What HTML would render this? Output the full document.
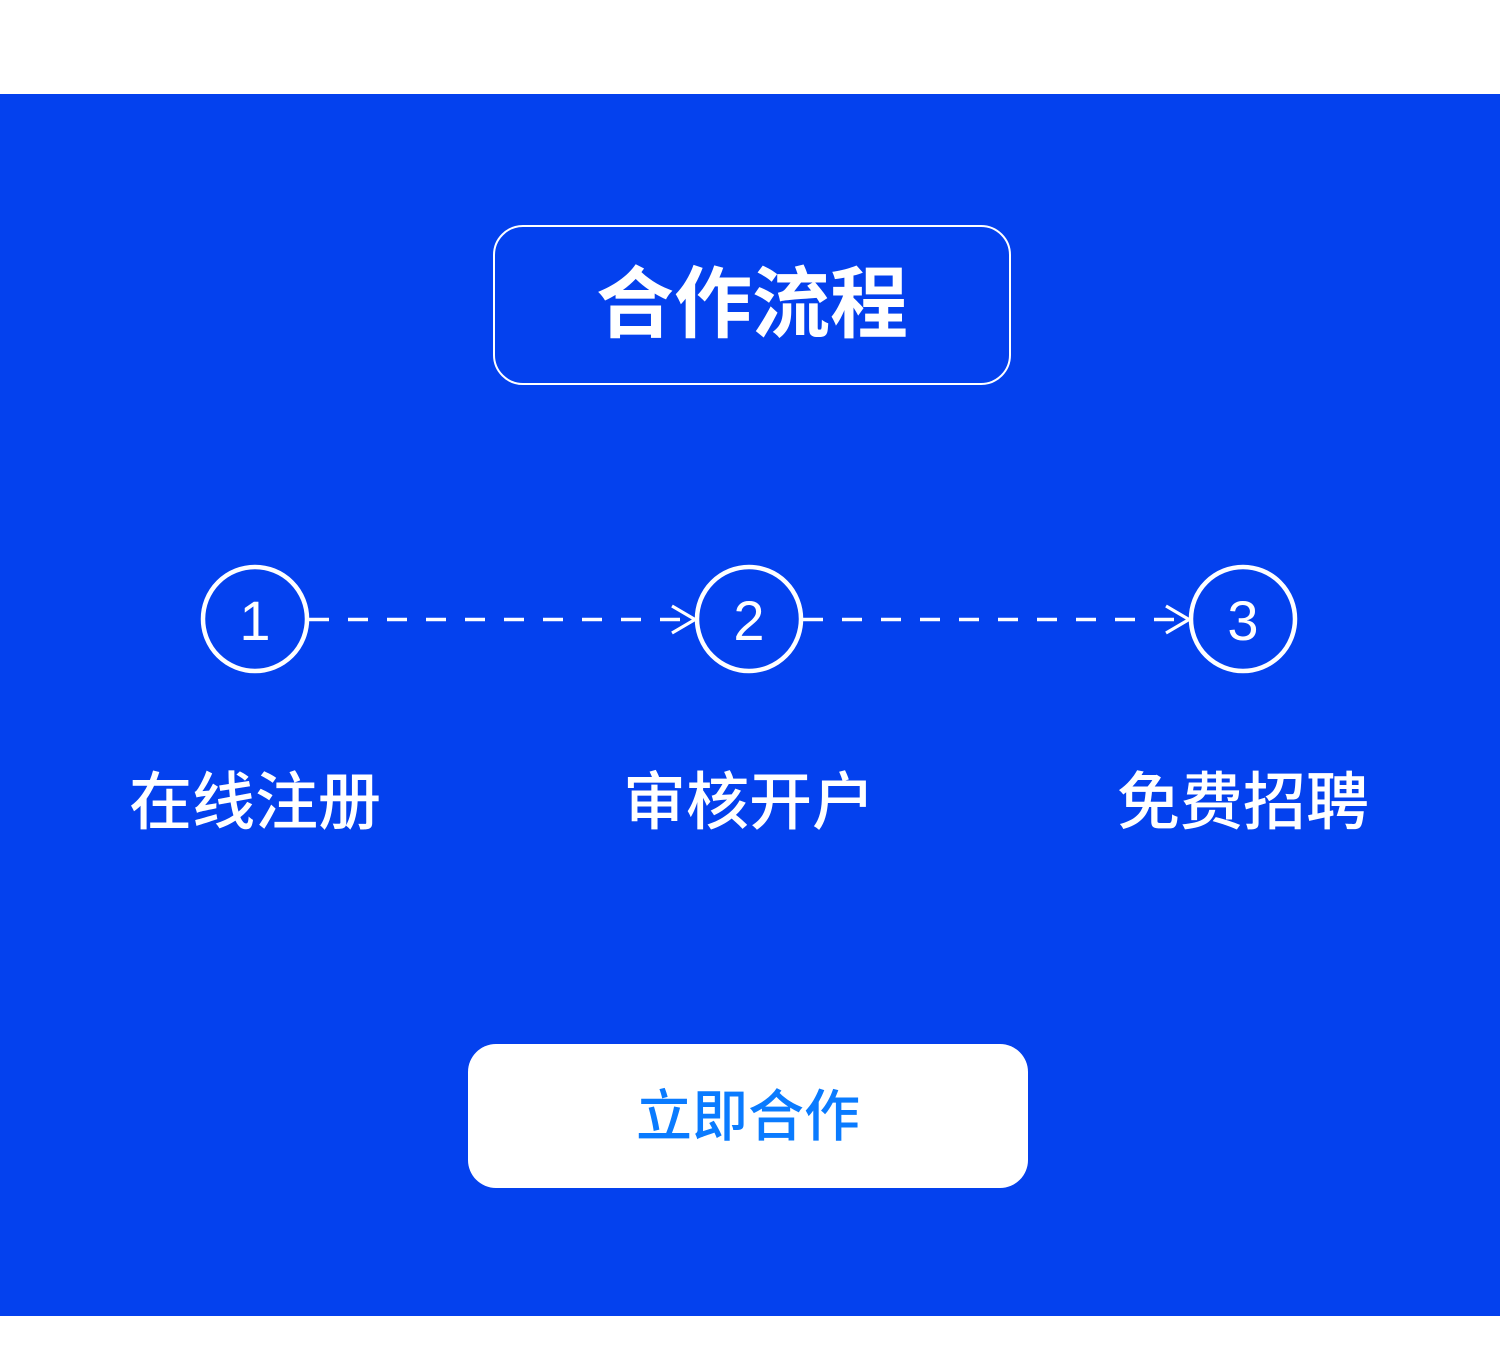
<!DOCTYPE html>
<html><head><meta charset="utf-8"><style>
html,body{margin:0;padding:0;background:#fff;width:1500px;height:1350px;overflow:hidden}
.bg{position:absolute;left:0;top:94px;width:1500px;height:1222px;background:#0441EE}
.t{position:absolute;font-family:"Liberation Sans","Noto Sans CJK SC",sans-serif;color:#fff;white-space:nowrap;text-align:center}
</style></head><body>
<div class="bg"></div>
<div style="position:absolute;left:493px;top:225px;width:514px;height:156px;border:2px solid #fff;border-radius:30px"></div>
<div class="t" style="left:493px;width:518px;top:258px;font-size:78px;line-height:92px;font-weight:bold">合作流程</div>
<svg width="1500" height="1350" style="position:absolute;left:0;top:0">
<g fill="none" stroke="#fff" stroke-width="4.5">
<circle cx="255" cy="619" r="52"/><circle cx="749" cy="619" r="52"/><circle cx="1243" cy="619" r="52"/>
</g>
<g stroke="#fff" stroke-width="3.5" fill="none">
<line x1="309" y1="619.5" x2="694" y2="619.5" stroke-dasharray="20 19"/>
<line x1="803" y1="619.5" x2="1188" y2="619.5" stroke-dasharray="20 19"/>
</g>
<g stroke="#fff" stroke-width="3.2" fill="none">
<polyline points="672,606 695,619.5 672,633"/>
<polyline points="1166,606 1189,619.5 1166,633"/>
</g>
<g font-family="Liberation Sans, sans-serif" font-size="56" fill="#fff" text-anchor="middle">
<text x="255" y="640">1</text><text x="749" y="640">2</text><text x="1243" y="640">3</text>
</g>
</svg>
<div class="t" style="left:105px;width:300px;top:767px;font-size:63px;line-height:72px;font-weight:500">在线注册</div>
<div class="t" style="left:599px;width:300px;top:767px;font-size:63px;line-height:72px;font-weight:500">审核开户</div>
<div class="t" style="left:1093px;width:300px;top:767px;font-size:63px;line-height:72px;font-weight:500">免费招聘</div>
<div style="position:absolute;left:468px;top:1044px;width:560px;height:144px;background:#fff;border-radius:28px"></div>
<div class="t" style="left:468px;width:560px;top:1084px;font-size:56px;line-height:66px;color:#0A7BFF;font-weight:500">立即合作</div>
</body></html>
